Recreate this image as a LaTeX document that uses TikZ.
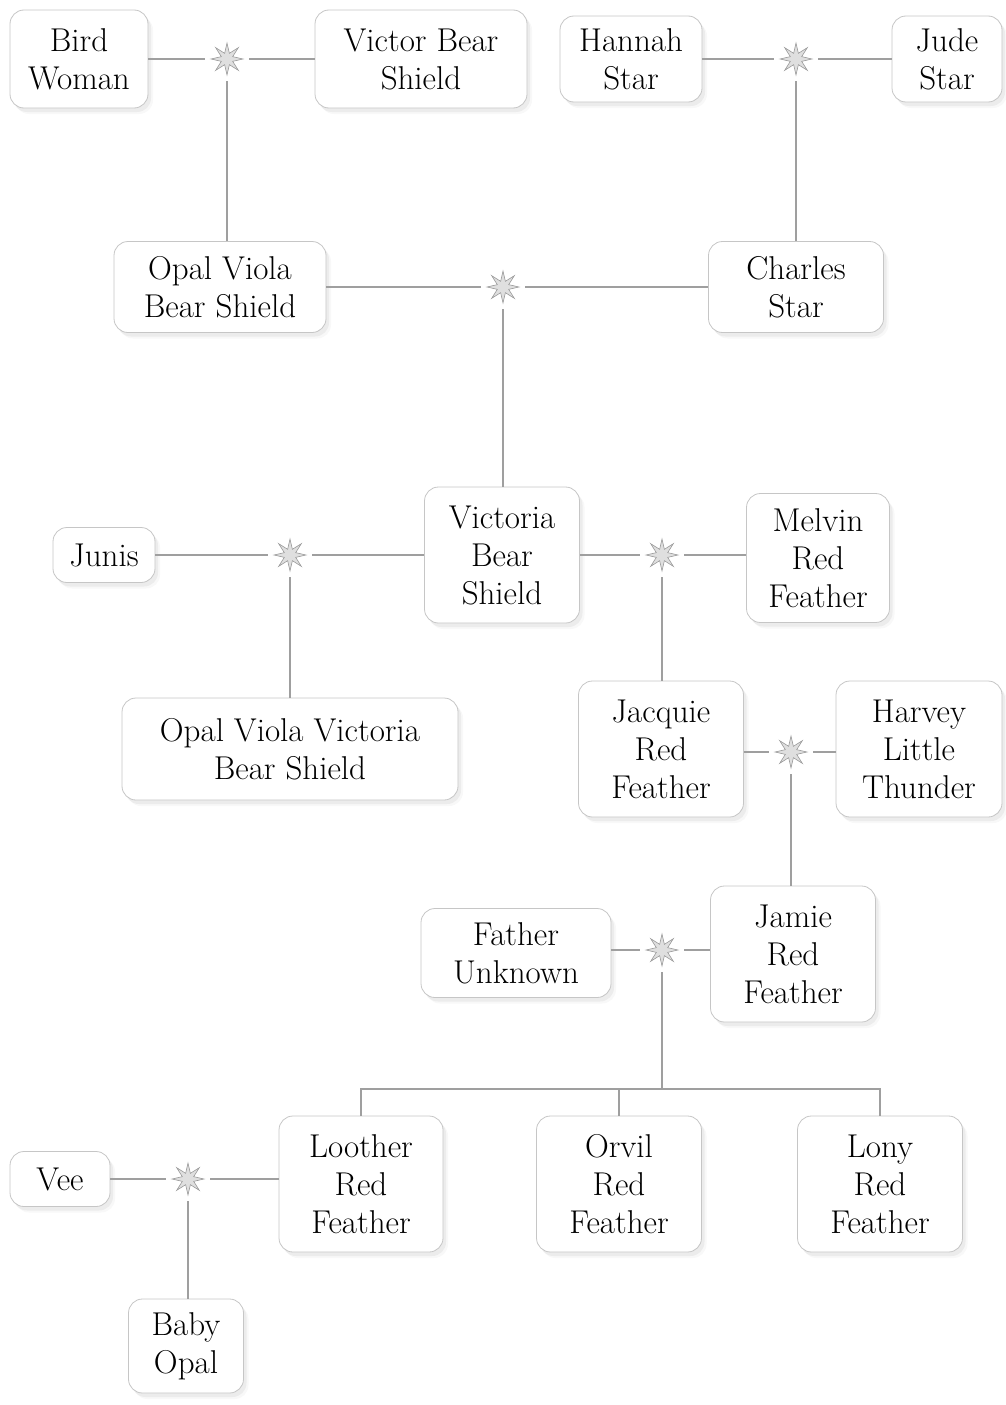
\documentclass[tikz,border=0pt]{standalone}
\usepackage{fontspec}
\usepackage{tikz}
\usetikzlibrary{shapes.geometric, shadows}

\begin{document}
\begin{tikzpicture}
	[x=1pt, y=-1pt,
	 person/.style={draw=gray!45, line width=0.8pt, rounded corners=14pt, fill=white,
	   align=center, inner sep=0pt, font=\fontsize{33}{38}\selectfont,
	   drop shadow={shadow xshift=3pt, shadow yshift=-4pt, opacity=0.10},
	   drop shadow={shadow xshift=5pt, shadow yshift=-6pt, opacity=0.06}},
	 knot/.style={circle, minimum size=44pt, inner sep=0pt,
	   path picture={\node[star, star points=8, star point ratio=2.6, minimum size=32pt,
	     inner sep=0pt, draw=gray!80, fill=gray!25, line width=0.6pt]
	     at (path picture bounding box.center) {};}},
	 link/.style={draw=gray!75, line width=1.3pt}]
   \useasboundingbox (0,0) rectangle (1005,1405);
   % grandparents
   \node[person, minimum width=138pt, minimum height=98pt] (bird) at (79,59) {Bird\\Woman};
   \node[person, minimum width=212pt, minimum height=98pt] (victor) at (421,59) {Victor Bear\\Shield};
   \node[person, minimum width=142pt, minimum height=86pt] (hannah) at (631,59) {Hannah\\Star};
   \node[person, minimum width=110pt, minimum height=86pt] (jude) at (947,59) {Jude\\Star};
   \node[knot] (s1) at (227,59) {};
   \node[knot] (s2) at (796,59) {};
   % parents
   \node[person, minimum width=212pt, minimum height=91pt] (opal) at (220,287) {Opal Viola\\Bear Shield};
   \node[person, minimum width=175pt, minimum height=91pt] (charles) at (796,287) {Charles\\Star};
   \node[knot] (s3) at (503,287) {};
   % Victoria
   \node[person, minimum width=155pt, minimum height=136pt] (victoria) at (502,555) {Victoria\\Bear\\Shield};
   \node[person, minimum width=102pt, minimum height=55pt] (junis) at (104,555) {Junis};
   \node[person, minimum width=143pt, minimum height=129pt] (melvin) at (818,558) {Melvin\\Red\\Feather};
   \node[knot] (s4) at (290,555) {};
   \node[knot] (s5) at (662,555) {};
   \node[person, minimum width=336pt, minimum height=102pt] (opalvv) at (290,749) {Opal Viola Victoria\\Bear Shield};
   \node[person, minimum width=165pt, minimum height=136pt] (jacquie) at (661,749) {Jacquie\\Red\\Feather};
   \node[person, minimum width=166pt, minimum height=136pt] (harvey) at (919,749) {Harvey\\Little\\Thunder};
   \node[knot] (s6) at (791,752) {};
   % Jamie
   \node[person, minimum width=165pt, minimum height=136pt] (jamie) at (793,954) {Jamie\\Red\\Feather};
   \node[person, minimum width=190pt, minimum height=89pt] (father) at (516,953) {Father\\Unknown};
   \node[knot] (s7) at (662,950) {};
   \coordinate (fork) at (662,1089);
   % children
   \node[person, minimum width=164pt, minimum height=136pt] (loother) at (361,1184) {Loother\\Red\\Feather};
   \node[person, minimum width=165pt, minimum height=136pt] (orvil) at (619,1184) {Orvil\\Red\\Feather};
   \node[person, minimum width=165pt, minimum height=136pt] (lony) at (880,1184) {Lony\\Red\\Feather};
   \node[person, minimum width=100pt, minimum height=55pt] (vee) at (60,1179) {Vee};
   \node[knot] (s8) at (188,1179) {};
   \node[person, minimum width=115pt, minimum height=94pt] (babyopal) at (186,1346) {Baby\\Opal};

   \path[link]
     (bird) edge (s1) (s1) edge (victor)
     (hannah) edge (s2) (s2) edge (jude)
     (opal) edge (s3) (s3) edge (charles)
     (junis) edge (s4) (s4) edge (victoria)
     (victoria) edge (s5) (s5) edge (s5 -| melvin.west)
     (s6 -| jacquie.east) edge (s6) (s6) edge (s6 -| harvey.west)
     (s7 -| father.east) edge (s7) (s7) edge (s7 -| jamie.west)
     (vee) edge (s8) (s8) edge (s8 -| loother.west);
   \path[link]
     (s1) edge (s1 |- opal.north)
     (s2) edge (s2 |- charles.north)
     (s3) edge (s3 |- victoria.north)
     (s4) edge (s4 |- opalvv.north)
     (s5) edge (s5 |- jacquie.north)
     (s6) edge (s6 |- jamie.north)
     (s7) edge (fork)
     (s8) edge (s8 |- babyopal.north);
   \draw[link] (loother.north) |- (fork) -| (lony.north);
   \draw[link] (orvil.north) -- (orvil.north |- fork);
\end{tikzpicture}
\end{document}
